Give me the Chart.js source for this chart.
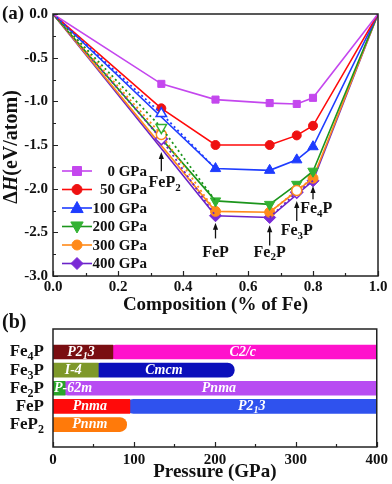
<!DOCTYPE html>
<html><head><meta charset="utf-8">
<script src="https://cdn.jsdelivr.net/npm/chart.js@4.4.1/dist/chart.umd.min.js"></script>
<style>
html,body{margin:0;padding:0;background:#fff;overflow:hidden;}
#wa{position:absolute;left:0;top:0;width:392px;height:318px;}
#wb{position:absolute;left:0;top:305px;width:392px;height:179px;}
</style></head><body>
<div id="wa"><canvas id="ca"></canvas></div>
<div id="wb"><canvas id="cb"></canvas></div>
<script>
// ---------- Panel (a) data ----------
const composition = [0, 1/3, 0.5, 2/3, 0.75, 0.8, 1];
const compoundNames = ['', 'FeP_2', 'FeP', 'Fe_2P', 'Fe_3P', 'Fe_4P', ''];
const pressureLabels = ['0 GPa', '50 GPa', '100 GPa', '200 GPa', '300 GPa', '400 GPa'];
const dH_0   = [0, -0.80, -0.98, -1.02, -1.03, -0.96, 0];
const dH_50  = [0, -1.08, -1.50, -1.50, -1.39, -1.28, 0];
const dH_100 = [0, -1.14, -1.77, -1.79, -1.67, -1.52, 0];
const dH_200 = [0, -1.30, -2.14, -2.18, -1.95, -1.80, 0];
const dH_300 = [0, -1.38, -2.26, -2.27, -2.02, -1.88, 0];
const dH_400 = [0, -1.43, -2.31, -2.33, -2.04, -1.91, 0];
// indices of points lying above the convex hull (metastable)
const meta_0 = [], meta_50 = [], meta_100 = [1], meta_200 = [1], meta_300 = [1, 4], meta_400 = [1, 4];
const xTicks = [0, 0.2, 0.4, 0.6, 0.8, 1.0];
const yTicks = [0, -0.5, -1.0, -1.5, -2.0, -2.5, -3.0];

// ---------- Panel (b) data ----------
const compounds = ['Fe_4P', 'Fe_3P', 'Fe_2P', 'FeP', 'FeP_2'];
const lowPhase  = ['P2_13', 'I-4', 'P-62m', 'Pnma', 'Pnnm'];
const lowStart  = [0, 0, 0, 0, 0];
const lowEnd    = [74, 56, 15, 95, 91];
const highPhase = ['C2/c', 'Cmcm', 'Pnma', 'P2_13', null];
const highStart = [69, 50, 10, 91, null];
const highEnd   = [400, 224, 400, 400, null];
const pTicks = [0, 100, 200, 300, 400];

const FONT = '"Liberation Serif","Times New Roman",serif';

function parseRich(s) {
  const parts = []; let buf = '';
  for (let i = 0; i < s.length; i++) {
    if (s[i] === '_' && i + 1 < s.length) {
      if (buf) { parts.push([buf, 0]); buf = ''; }
      parts.push([s[i + 1], 1]); i++;
    } else buf += s[i];
  }
  if (buf) parts.push([buf, 0]);
  return parts;
}
function richWidth(ctx, parts, size, style) {
  let w = 0;
  parts.forEach(p => { ctx.font = `${p[2] || style} ${p[1] ? Math.round(size * 0.68) : size}px ${FONT}`; w += ctx.measureText(p[0]).width; });
  return w;
}
function richText(ctx, parts, x, y, align, size, style, color) {
  const w = richWidth(ctx, parts, size, style);
  let cx = align === 'center' ? x - w / 2 : align === 'right' ? x - w : x;
  ctx.save();
  ctx.fillStyle = color || '#111';
  ctx.textBaseline = 'middle'; ctx.textAlign = 'left';
  parts.forEach(p => {
    ctx.font = `${p[2] || style} ${p[1] ? Math.round(size * 0.68) : size}px ${FONT}`;
    ctx.fillText(p[0], cx, p[1] ? y + size * 0.32 : y);
    cx += ctx.measureText(p[0]).width;
  });
  ctx.restore();
  return w;
}
function drawMarker(ctx, style, x, y, r, fill, stroke, lw) {
  ctx.save();
  ctx.beginPath();
  if (style === 'rect') { ctx.rect(x - r, y - r, 2 * r, 2 * r); }
  else if (style === 'circle') { ctx.arc(x, y, r, 0, Math.PI * 2); }
  else if (style === 'triangle') { ctx.moveTo(x, y - r); ctx.lineTo(x + r * 0.95, y + r * 0.7); ctx.lineTo(x - r * 0.95, y + r * 0.7); ctx.closePath(); }
  else if (style === 'triangleDown') { ctx.moveTo(x, y + r); ctx.lineTo(x + r * 0.95, y - r * 0.7); ctx.lineTo(x - r * 0.95, y - r * 0.7); ctx.closePath(); }
  else if (style === 'rectRot') { ctx.moveTo(x, y - r); ctx.lineTo(x + r, y); ctx.lineTo(x, y + r); ctx.lineTo(x - r, y); ctx.closePath(); }
  ctx.fillStyle = fill; ctx.fill();
  ctx.lineWidth = lw || 1; ctx.strokeStyle = stroke; ctx.stroke();
  ctx.restore();
}

const series = [
  { label: pressureLabels[0], values: dH_0,   meta: meta_0,   color: '#c447ee', mcol: '#c447ee', style: 'rect',     r: 5,   rot: 0,   leg: 'rect',         lr: 4.5 },
  { label: pressureLabels[1], values: dH_50,  meta: meta_50,  color: '#ff0a0a', mcol: '#ee1111', style: 'circle',   r: 4.5, rot: 0,   leg: 'circle',       lr: 5 },
  { label: pressureLabels[2], values: dH_100, meta: meta_100, color: '#1e3cff', mcol: '#1e3cff', style: 'triangle', r: 6,   rot: 0,   leg: 'triangle',     lr: 6.5 },
  { label: pressureLabels[3], values: dH_200, meta: meta_200, color: '#1c951c', mcol: '#33b233', style: 'triangle', r: 6,   rot: 180, leg: 'triangleDown', lr: 6.5 },
  { label: pressureLabels[4], values: dH_300, meta: meta_300, color: '#ff8a1a', mcol: '#ff8a1a', style: 'circle',   r: 5,   rot: 0,   leg: 'circle',       lr: 5 },
  { label: pressureLabels[5], values: dH_400, meta: meta_400, color: '#6a22c8', mcol: '#7a2ad6', style: 'rectRot',  r: 6,   rot: 0,   leg: 'rectRot',      lr: 6 }
];

const datasetsA = [];
series.forEach(s => {
  const pts = composition.map((x, i) => ({ x: x, y: s.values[i], i: i }));
  datasetsA.push({
    label: s.label,
    data: pts.filter(p => !s.meta.includes(p.i)),
    borderColor: s.color, borderWidth: 1.6,
    pointStyle: s.style, pointRotation: s.rot,
    pointRadius: c => (c.raw && (c.raw.i === 0 || c.raw.i === composition.length - 1)) ? 0 : s.r,
    pointBackgroundColor: s.mcol, pointBorderColor: s.mcol, pointBorderWidth: 1,
    tension: 0, fill: false, order: 1
  });
  if (s.meta.length) {
    const md = [];
    s.meta.forEach(m => {
      md.push(pts[m - 1], pts[m], pts[m + 1]);
      md.push({ x: composition[m + 1], y: null, i: -1 });
    });
    datasetsA.push({
      label: s.label + ' meta', isMeta: true,
      data: md, borderColor: s.color, borderWidth: 1.8, borderDash: [2, 3],
      pointStyle: s.style, pointRotation: s.rot,
      pointRadius: c => (c.raw && s.meta.includes(c.raw.i)) ? s.r : 0,
      pointBackgroundColor: '#ffffff', pointBorderColor: s.mcol, pointBorderWidth: 1.5,
      spanGaps: false, tension: 0, fill: false, order: 0
    });
  }
});

// annotation arrows: [compound index, arrow top (ΔH), arrow bottom (ΔH), label centre y (ΔH), label x offset (composition)]
const arrowNotes = [
  [1, -1.58, -1.80, -1.93, 0.01],
  [2, -2.39, -2.57, -2.73, 0],
  [3, -2.42, -2.65, -2.73, 0],
  [4, -2.14, -2.37, -2.48, 0],
  [5, -1.97, -2.12, -2.23, 0.01]
];

const panelA = {
  id: 'panelA',
  afterDraw(chart) {
    const ctx = chart.ctx, a = chart.chartArea, xs = chart.scales.x, ys = chart.scales.y;
    ctx.save();
    // frame
    ctx.strokeStyle = '#222'; ctx.lineWidth = 1.5;
    ctx.strokeRect(a.left, a.top, a.right - a.left, a.bottom - a.top);
    // ticks (inward)
    ctx.lineWidth = 1.2;
    ctx.beginPath();
    for (let v = 0; v <= 1.0001; v += 0.1) {
      const px = Math.round(xs.getPixelForValue(v)) + 0.5;
      const major = Math.abs(v * 5 - Math.round(v * 5)) < 1e-6;
      ctx.moveTo(px, a.bottom); ctx.lineTo(px, a.bottom - (major ? 5 : 3));
    }
    for (let v = 0; v >= -3.0001; v -= 0.25) {
      const py = Math.round(ys.getPixelForValue(v)) + 0.5;
      const major = Math.abs(v * 2 - Math.round(v * 2)) < 1e-6;
      ctx.moveTo(a.left, py); ctx.lineTo(a.left + (major ? 5 : 3), py);
    }
    ctx.stroke();
    // axis titles
    ctx.fillStyle = '#111';
    ctx.font = `bold 19px ${FONT}`; ctx.textAlign = 'center'; ctx.textBaseline = 'middle';
    ctx.fillText('Composition (% of Fe)', (a.left + a.right) / 2, 305);
    ctx.save();
    ctx.translate(12, (a.top + a.bottom) / 2 + 2);
    ctx.rotate(-Math.PI / 2);
    richText(ctx, [['Δ', 0], ['H', 0, 'italic bold'], ['(eV/atom)', 0]], 0, 0, 'center', 20, 'bold', '#111');
    ctx.restore();
    // panel label
    ctx.font = `bold 19px ${FONT}`; ctx.textAlign = 'left';
    ctx.fillText('(a)', 2, 14);
    // arrows
    arrowNotes.forEach(n => {
      const px = xs.getPixelForValue(composition[n[0]]);
      const yt = ys.getPixelForValue(n[1]), yb = ys.getPixelForValue(n[2]);
      ctx.strokeStyle = '#111'; ctx.fillStyle = '#111'; ctx.lineWidth = 1.3;
      ctx.beginPath(); ctx.moveTo(px, yb); ctx.lineTo(px, yt + 5); ctx.stroke();
      ctx.beginPath(); ctx.moveTo(px, yt); ctx.lineTo(px - 2.6, yt + 7); ctx.lineTo(px + 2.6, yt + 7); ctx.closePath(); ctx.fill();
      richText(ctx, parseRich(compoundNames[n[0]]), xs.getPixelForValue(composition[n[0]] + n[4]), ys.getPixelForValue(n[3]), 'center', 16, 'bold', '#111');
    });
    // legend
    const lx0 = a.left + 9, lx1 = a.left + 39, lxm = a.left + 24, ltx = a.left + 94;
    series.forEach((s, k) => {
      const ly = a.top + 157 + k * 18.5;
      ctx.strokeStyle = s.color; ctx.lineWidth = 1.6;
      ctx.beginPath(); ctx.moveTo(lx0, ly); ctx.lineTo(lx1, ly); ctx.stroke();
      drawMarker(ctx, s.leg, lxm, ly, s.lr, s.mcol, s.mcol, 1);
      ctx.fillStyle = '#111'; ctx.font = `bold 15px ${FONT}`; ctx.textAlign = 'right'; ctx.textBaseline = 'middle';
      ctx.fillText(s.label, ltx, ly + 1);
    });
    ctx.restore();
  }
};

new Chart(document.getElementById('ca'), {
  type: 'line',
  data: { datasets: datasetsA },
  options: {
    responsive: true, maintainAspectRatio: false, animation: false, devicePixelRatio: 1,
    layout: { padding: { left: 0, right: 14, top: 10, bottom: 0 } },
    plugins: { legend: { display: false }, tooltip: { enabled: false } },
    scales: {
      x: {
        type: 'linear', min: 0, max: 1,
        afterBuildTicks: s => { s.ticks = xTicks.map(v => ({ value: v })); },
        afterFit: s => { s.height = 42; },
        ticks: { callback: v => Number(v).toFixed(1), color: '#111', font: { family: FONT, size: 15, weight: 'bold' }, padding: 2, maxRotation: 0 },
        grid: { display: false, drawTicks: false, tickLength: 0 }, border: { display: false }
      },
      y: {
        type: 'linear', min: -3, max: 0,
        afterBuildTicks: s => { s.ticks = yTicks.map(v => ({ value: v })); },
        afterFit: s => { s.width = 53; },
        ticks: { callback: v => Number(v).toFixed(1), color: '#111', font: { family: FONT, size: 15, weight: 'bold' }, padding: 5 },
        grid: { display: false, drawTicks: false, tickLength: 0 }, border: { display: false }
      }
    }
  },
  plugins: [panelA]
});

// ---------- Panel (b) ----------
const lowColors  = ['#7a0e12', '#7e982a', '#2aa52a', '#ff0a0a', '#ff7a0a'];
const highColors = ['#ff12cc', '#0b0fbb', '#b84cf2', '#2f52ee', null];
const R = 7;
const lowData = compounds.map((c, i) => ({ y: i, x: [lowStart[i], lowEnd[i]] }));
const highData = [];
compounds.forEach((c, i) => { if (highPhase[i] !== null) highData.push({ y: i, x: [highStart[i], highEnd[i]] }); });

const panelB = {
  id: 'panelB',
  afterDatasetsDraw(chart) {
    const ctx = chart.ctx, xs = chart.scales.x, ys = chart.scales.y;
    compounds.forEach((c, i) => {
      const py = ys.getPixelForValue(i);
      const items = [[lowPhase[i], lowStart[i], lowEnd[i]]];
      if (highPhase[i] !== null) items.push([highPhase[i], highStart[i], highEnd[i]]);
      items.forEach((it, k) => {
        const parts = parseRich(it[0]);
        const x0 = xs.getPixelForValue(it[1]), x1 = xs.getPixelForValue(k === 0 && items.length > 1 ? items[1][1] : it[2]);
        const w = richWidth(ctx, parts, 14, 'italic bold');
        if (w + 4 > x1 - x0) richText(ctx, parts, x0 + 1, py, 'left', 14, 'italic bold', '#fff');
        else richText(ctx, parts, (x0 + x1) / 2, py, 'center', 14, 'italic bold', '#fff');
      });
    });
  },
  afterDraw(chart) {
    const ctx = chart.ctx, a = chart.chartArea, xs = chart.scales.x, ys = chart.scales.y;
    ctx.save();
    ctx.strokeStyle = '#222'; ctx.lineWidth = 1.5;
    ctx.strokeRect(a.left, a.top, a.right - a.left, a.bottom - a.top);
    ctx.lineWidth = 1.2; ctx.beginPath();
    for (let v = 0; v <= 400; v += 50) {
      const px = Math.round(xs.getPixelForValue(v)) + 0.5;
      ctx.moveTo(px, a.bottom); ctx.lineTo(px, a.bottom - (v % 100 === 0 ? 5 : 3));
    }
    ctx.stroke();
    compounds.forEach((c, i) => {
      richText(ctx, parseRich(c), 44, ys.getPixelForValue(i), 'right', 17, 'bold', '#111');
    });
    ctx.fillStyle = '#111'; ctx.font = `bold 19px ${FONT}`; ctx.textAlign = 'center'; ctx.textBaseline = 'middle';
    ctx.fillText('Pressure (GPa)', (a.left + a.right) / 2, 167);
    ctx.font = `bold 20px ${FONT}`; ctx.textAlign = 'left';
    ctx.fillText('(b)', 2, 18);
    ctx.restore();
  }
};

new Chart(document.getElementById('cb'), {
  type: 'bar',
  data: {
    datasets: [
      {
        label: 'low', data: lowData, grouped: false, barThickness: 14, borderSkipped: false,
        backgroundColor: c => lowColors[c.dataIndex],
        borderRadius: c => { const r = highPhase[c.dataIndex] === null ? R : 0; return { topLeft: 0, bottomLeft: 0, topRight: r, bottomRight: r }; }
      },
      {
        label: 'high', data: highData, grouped: false, barThickness: 14, borderSkipped: false,
        backgroundColor: c => highColors[c.raw ? c.raw.y : c.dataIndex],
        borderRadius: c => { const i = c.raw ? c.raw.y : c.dataIndex; const r = highEnd[i] < 400 ? R : 0; return { topLeft: R, bottomLeft: R, topRight: r, bottomRight: r }; }
      }
    ]
  },
  options: {
    indexAxis: 'y',
    responsive: true, maintainAspectRatio: false, animation: false, devicePixelRatio: 1,
    layout: { padding: { left: 0, right: 14, top: 24, bottom: 0 } },
    plugins: { legend: { display: false }, tooltip: { enabled: false } },
    scales: {
      x: {
        type: 'linear', min: 0, max: 400,
        afterBuildTicks: s => { s.ticks = pTicks.map(v => ({ value: v })); },
        afterFit: s => { s.height = 37; },
        ticks: { color: '#111', font: { family: FONT, size: 15, weight: 'bold' }, padding: 4, maxRotation: 0 },
        grid: { display: false, drawTicks: false, tickLength: 0 }, border: { display: false }
      },
      y: {
        type: 'linear', reverse: true, min: -0.8, max: 4.77,
        afterFit: s => { s.width = 53; },
        ticks: { display: false }, grid: { display: false, drawTicks: false, tickLength: 0 }, border: { display: false }
      }
    }
  },
  plugins: [panelB]
});
</script>
</body></html>
